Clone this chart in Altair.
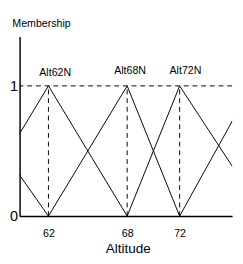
import altair as alt
import pandas as pd

# Membership functions (breakpoints: altitude, membership)
series_names = ["AltLow", "Alt62N", "Alt68N", "Alt72N", "AltHigh"]
series_x = [[55, 62], [56, 62, 68], [62, 68, 72], [68, 72, 78.5], [72, 77.5]]
series_y = [[1, 0], [0, 1, 0], [0, 1, 0], [0, 1, 0], [0, 1]]

peak_labels = ["Alt62N", "Alt68N", "Alt72N"]
peak_x = [62, 68, 72]
label_dx = [7, 3, 6]
label_dy = [-13, -15, -15]

x_ticks = [62, 68, 72]
y_ticks = [0, 1]

rows = []
for name, xs, ys in zip(series_names, series_x, series_y):
    for i, (xv, yv) in enumerate(zip(xs, ys)):
        rows.append({"series": name, "x": xv, "y": yv, "order": i})
lines_df = pd.DataFrame(rows)
peaks_df = pd.DataFrame({"label": peak_labels, "x": peak_x, "y0": 0, "y1": 1})

xscale = alt.Scale(domain=[59.8, 76], nice=False, zero=False)
yscale = alt.Scale(domain=[0, 1.38], nice=False, zero=True)

xaxis = alt.Axis(values=x_ticks, format="d", ticks=False, grid=False,
                 labelFontSize=11, labelPadding=12, labelFont="Liberation Sans",
                 labelColor="black", domainColor="black", domainWidth=1.5,
                 title="Altitude", titleFontSize=14, titleFontWeight="normal",
                 titleFont="Liberation Sans", titleColor="black",
                 titleX=112, titleY=38, titleBaseline="alphabetic", titleAlign="center")
yaxis = alt.Axis(values=y_ticks, format="d", ticks=False, grid=False,
                 labelFontSize=15, labelPadding=2, labelFont="Liberation Sans",
                 labelColor="black", domainColor="black", domainWidth=1.5,
                 title="Membership", titleAngle=0, titleAlign="left",
                 titleX=-8, titleY=-13, titleBaseline="middle",
                 titleFontSize=11, titleFontWeight="normal",
                 titleFont="Liberation Sans", titleColor="black")

lines = alt.Chart(lines_df).mark_line(clip=True, color="black", strokeWidth=1).encode(
    x=alt.X("x:Q", scale=xscale, axis=xaxis),
    y=alt.Y("y:Q", scale=yscale, axis=yaxis),
    detail="series:N",
    order="order:Q",
)

vrules = alt.Chart(peaks_df).mark_rule(color="black", strokeWidth=1, strokeDash=[5, 4]).encode(
    x=alt.X("x:Q", scale=xscale),
    y=alt.Y("y0:Q", scale=yscale),
    y2="y1:Q",
)

hrule = alt.Chart(pd.DataFrame({"v": [1]})).mark_rule(color="black", strokeWidth=1, strokeDash=[5, 4]).encode(
    y=alt.Y("v:Q", scale=yscale),
)

texts = []
for lab, px, dx, dy in zip(peak_labels, peak_x, label_dx, label_dy):
    t = alt.Chart(pd.DataFrame({"label": [lab], "x": [px], "y": [1]})).mark_text(
        font="Liberation Sans", fontSize=11, color="black", dx=dx, dy=dy,
        align="center", baseline="middle").encode(
        x=alt.X("x:Q", scale=xscale),
        y=alt.Y("y:Q", scale=yscale),
        text="label:N",
    )
    texts.append(t)

chart = alt.layer(hrule, vrules, lines, *texts).properties(
    width=220, height=186,
    padding={"left": 12, "top": 25, "right": 3, "bottom": 39},
    autosize=alt.AutoSizeParams(type="none"),
    background="white",
).configure_view(stroke=None)

chart.save("out.html", embed_options={"renderer": "svg", "actions": False})
